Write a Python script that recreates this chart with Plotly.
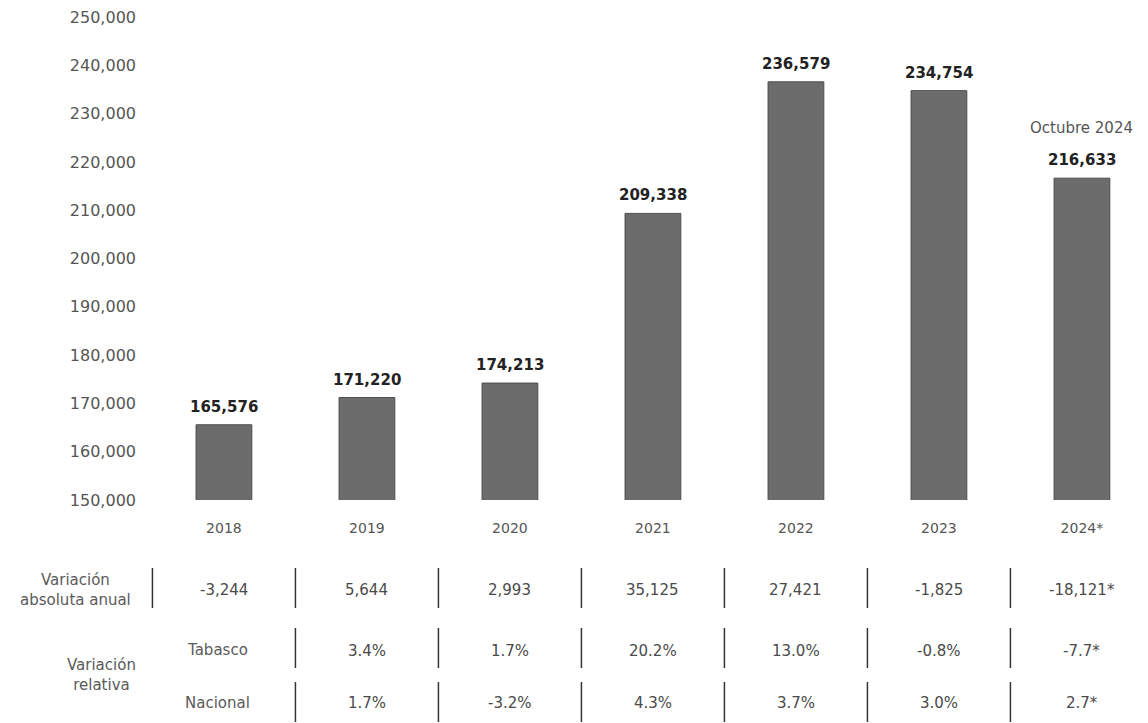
import plotly.graph_objects as go

years = ["2018", "2019", "2020", "2021", "2022", "2023", "2024*"]
valores = [165576, 171220, 174213, 209338, 236579, 234754, 216633]
var_abs = ["-3,244", "5,644", "2,993", "35,125", "27,421", "-1,825", "-18,121*"]
var_tabasco = ["", "3.4%", "1.7%", "20.2%", "13.0%", "-0.8%", "-7.7*"]
var_nacional = ["", "1.7%", "-3.2%", "4.3%", "3.7%", "3.0%", "2.7*"]
y_ticks = list(range(150000, 250001, 10000))

FONT = "DejaVu Sans"
OFF = 8          # page body margin of the html
L, W = 150, 998  # plot area left edge / width (page px)
TOP, BOT = 17, 500  # plot area top / bottom (page px)

fig = go.Figure()
fig.add_trace(go.Bar(
    x=years, y=valores,
    width=0.39,
    marker=dict(color="#6c6c6c", line=dict(color="#4e4e4e", width=1)),
    hoverinfo="x+y",
))

# bold value labels above the bars (x as category index)
for i, v in enumerate(valores):
    fig.add_annotation(x=i, y=v, text=f"<b>{v:,}</b>", showarrow=False,
                       yanchor="bottom", yshift=7,
                       font=dict(family=FONT, size=15, color="#222222"))

fig.add_annotation(x=len(years) - 1, y=valores[-1], text="Octubre 2024", showarrow=False,
                   yanchor="bottom", yshift=39,
                   font=dict(family=FONT, size=15, color="#555555"))


# table under the chart (paper coords from page pixel positions)
def py(pix):
    return (BOT - pix) / (BOT - TOP)


def px(pix):
    return (pix - L) / W


row_y = [py(590), py(651), py(703)]
for i in range(len(years)):
    for ry, vals in zip(row_y, [var_abs, var_tabasco, var_nacional]):
        if vals[i]:
            fig.add_annotation(x=i, y=ry, yref="paper", text=vals[i], showarrow=False,
                               xanchor="center", yanchor="middle",
                               font=dict(family=FONT, size=15, color="#4a4a4a"))

lab_font = dict(family=FONT, size=15, color="#5a5a5a")
for text, x, y in [("Variación<br>absoluta anual", 75, 590),
                   ("Variación<br>relativa", 101, 675),
                   ("Tabasco", 217, 650),
                   ("Nacional", 217, 703)]:
    fig.add_annotation(x=px(x), xref="paper", y=py(y), yref="paper", showarrow=False,
                       xanchor="center", yanchor="middle", align="center",
                       text=text, font=lab_font)

# separators between columns
for k in range(len(years)):
    xs = k - 0.5
    segs = [(568, 608)] if k == 0 else [(568, 608), (628, 668), (682, 722)]
    for y0, y1 in segs:
        fig.add_shape(type="line", x0=xs, x1=xs, y0=py(y1), y1=py(y0),
                      xref="x", yref="paper",
                      line=dict(color="#333333", width=1.5))

fig.update_layout(
    width=1148 - OFF, height=723 - OFF,
    margin=dict(l=L - OFF, r=0, t=TOP - OFF, b=723 - BOT, autoexpand=False),
    plot_bgcolor="white", paper_bgcolor="white",
    showlegend=False,
    font=dict(family=FONT),
    xaxis=dict(type="category", range=[-0.517, 6.462], showgrid=False, showline=False,
               zeroline=False, ticks="", ticklabelstandoff=18, automargin=False,
               tickfont=dict(family=FONT, size=14, color="#555555")),
    yaxis=dict(range=[150000, 250000], tickvals=y_ticks, tickformat=",d",
               showgrid=False, showline=False, zeroline=False, ticks="",
               ticklabelstandoff=13, automargin=False, ticklabeloverflow="allow",
               tickfont=dict(family=FONT, size=16, color="#555555")),
)

fig.write_html("out.html")
